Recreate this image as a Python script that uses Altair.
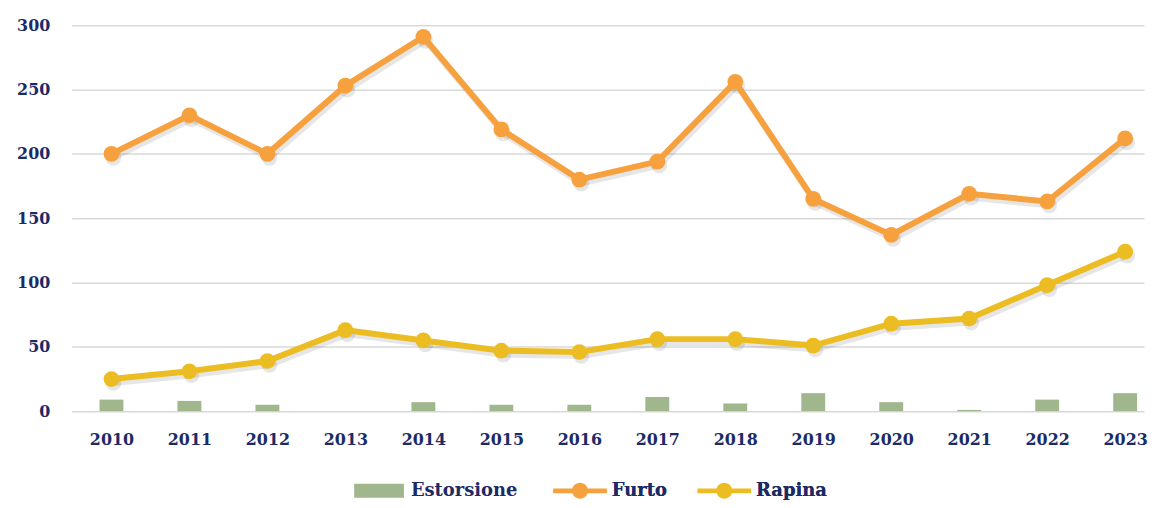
import altair as alt
import pandas as pd

years = list(range(2010, 2024))
estorsione = [9, 8, 5, 0, 7, 5, 5, 11, 6, 14, 7, 1, 9, 14]
furto = [200, 230, 200, 253, 291, 219, 180, 194, 256, 165, 137, 169, 163, 212]
rapina = [25, 31, 39, 63, 55, 47, 46, 56, 56, 51, 68, 72, 98, 124]
y_ticks = [0, 50, 100, 150, 200, 250, 300]

NAVY = "#1c2a66"
FONT = "DejaVu Serif"

bars_df = pd.DataFrame({"anno": years, "valore": estorsione, "serie": "Estorsione"})
lines_df = pd.concat([
    pd.DataFrame({"anno": years, "valore": furto, "serie": "Furto"}),
    pd.DataFrame({"anno": years, "valore": rapina, "serie": "Rapina"}),
])

x_scale = alt.Scale(domain=[2009.4897, 2023.2423], nice=False, zero=False, padding=0)
y_scale = alt.Scale(domain=[0, 300], nice=False, padding=0)

x_enc = alt.X("anno:Q", scale=x_scale, title=None,
              axis=alt.Axis(values=years, format="d", grid=False, domain=False, ticks=False,
                            labelPadding=20, labelBaseline="top", labelFont=FONT,
                            labelFontSize=16, labelFontWeight="bold", labelColor=NAVY))
y_enc = alt.Y("valore:Q", scale=y_scale, title=None,
              axis=alt.Axis(values=y_ticks, grid=True, gridColor="#d9d9d9", gridWidth=1.5,
                            domain=False, ticks=False, labelPadding=22, labelFont=FONT,
                            labelFontSize=16, labelFontWeight="bold", labelColor=NAVY))

# legend symbols: layout box is 20px (size 400 -> unit = 10px); drawn shapes extend beyond it
bar_path = "M-2.5,-0.7H2.5V0.7H-2.5Z"
line_path = ("M-2.7,-0.24H2.7V0.24H-2.7Z "
             "M0.8,0A0.8,0.8,0,1,1,-0.8,0A0.8,0.8,0,1,1,0.8,0Z")

bars = alt.Chart(bars_df).mark_bar(size=24, color="#a0b68c").encode(
    x=x_enc, y=y_enc,
    color=alt.Color("serie:N",
                    scale=alt.Scale(domain=["Estorsione"], range=["#a0b68c"]),
                    legend=alt.Legend(orient="none", legendX=299, legendY=458, offset=0,
                                      title=None,
                                      symbolType=bar_path, symbolSize=400,
                                      symbolStrokeWidth=0, labelOffset=22,
                                      labelFont=FONT, labelFontSize=18,
                                      labelFontWeight="bold", labelColor=NAVY)),
)

shadow_line = alt.Chart(lines_df).mark_line(strokeWidth=6, xOffset=2, yOffset=4,
                                            opacity=0.15, color="#555555").encode(
    x=alt.X("anno:Q", scale=x_scale), y=alt.Y("valore:Q", scale=y_scale),
    detail="serie:N")
shadow_pts = alt.Chart(lines_df).mark_point(filled=True, size=250, xOffset=2, yOffset=4,
                                            opacity=0.15, color="#555555").encode(
    x=alt.X("anno:Q", scale=x_scale), y=alt.Y("valore:Q", scale=y_scale))

line_color = alt.Color("serie:N",
                       scale=alt.Scale(domain=["Furto", "Rapina"],
                                       range=["#f6a03e", "#ecbd22"]),
                       legend=alt.Legend(orient="none", legendX=501, legendY=458, offset=0,
                                         title=None,
                                         direction="horizontal", symbolType=line_path,
                                         symbolSize=400, symbolStrokeWidth=0,
                                         labelOffset=22, columnPadding=30,
                                         labelFont=FONT, labelFontSize=18,
                                         labelFontWeight="bold", labelColor=NAVY))

lines = alt.Chart(lines_df).mark_line(strokeWidth=6).encode(
    x=alt.X("anno:Q", scale=x_scale), y=alt.Y("valore:Q", scale=y_scale), color=line_color)
points = alt.Chart(lines_df).mark_point(filled=True, size=250, opacity=1).encode(
    x=alt.X("anno:Q", scale=x_scale), y=alt.Y("valore:Q", scale=y_scale), color=line_color)

chart = alt.layer(bars, shadow_line, shadow_pts, lines, points).resolve_scale(
    color="independent"
).properties(
    width=1078, height=388,
    autosize=alt.AutoSizeParams(type="none"),
    padding={"left": 64, "top": 16, "right": 10, "bottom": 90},
).configure(background="white").configure_view(stroke=None)

chart.save("out.html", embed_options={"renderer": "svg", "actions": False})
